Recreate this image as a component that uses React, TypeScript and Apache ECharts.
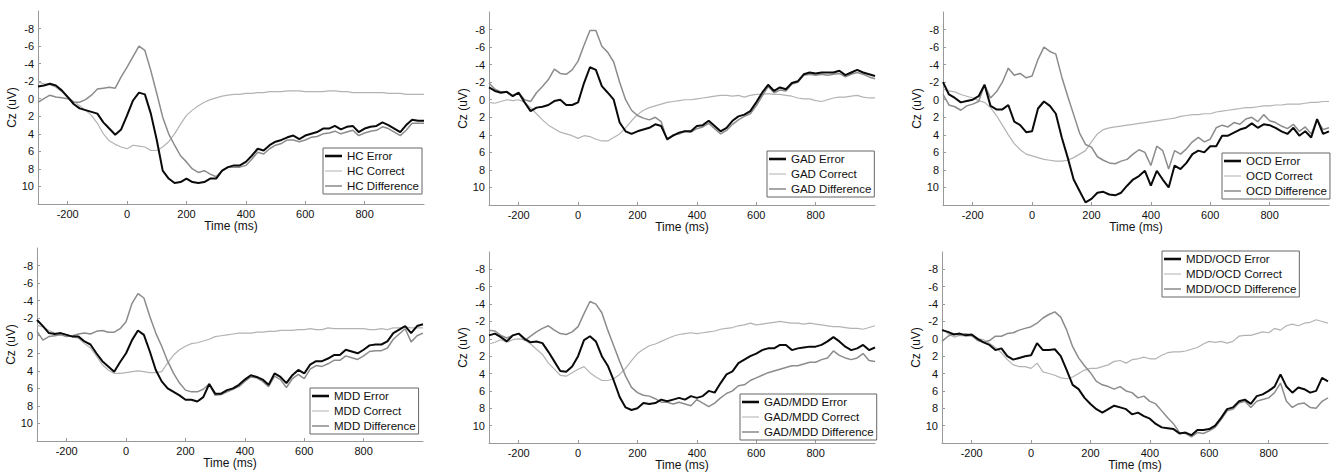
import React, { useEffect, useRef } from "react";
import * as echarts from "echarts";

// Time points (ms)
const TIME = [
  -300, -280, -260, -240, -220, -200, -180, -160, -140, -120, -100,
  -80, -60, -40, -20, 0, 20, 40, 60, 80, 100, 120,
  140, 160, 180, 200, 220, 240, 260, 280, 300, 320, 340,
  360, 380, 400, 420, 440, 460, 480, 500, 520, 540, 560,
  580, 600, 620, 640, 660, 680, 700, 720, 740, 760, 780,
  800, 820, 840, 860, 880, 900, 920, 940, 960, 980, 1000,
];

// HC
const HC_ERR = [
  -1.4, -1.5, -1.7, -1.5, -0.95, -0.2, 0.6, 1.1, 1.3, 1.5, 1.7,
  2.7, 3.4, 4.1, 3.5, 1.9, 0.2, -0.7, -0.5, 1.7, 4.7, 8.2,
  9.1, 9.6, 9.5, 9.1, 9.5, 9.6, 9.5, 9.1, 9.1, 8.2, 7.8,
  7.6, 7.6, 7.2, 6.5, 5.7, 5.9, 5.3, 4.9, 4.7, 4.4, 4.2,
  4.6, 4.2, 4.0, 3.8, 3.4, 3.4, 3.1, 3.5, 3.2, 3.1, 3.8,
  3.4, 3.2, 3.1, 2.7, 3.0, 3.4, 3.8, 3.0, 2.4, 2.5, 2.5,
];
const HC_COR = [
  -1.9, -1.7, -1.6, -1.3, -0.8, -0.2, 0.3, 0.8, 1.3, 1.9, 2.8,
  4.0, 4.8, 5.2, 5.5, 5.7, 5.3, 5.4, 5.5, 5.9, 5.9, 5.5,
  4.9, 4.0, 2.9, 1.9, 1.3, 0.8, 0.4, 0.1, -0.1, -0.3, -0.4,
  -0.5, -0.5, -0.6, -0.6, -0.7, -0.7, -0.8, -0.8, -0.8, -0.9, -0.9,
  -0.9, -0.8, -0.8, -0.8, -0.8, -0.9, -0.9, -0.8, -0.8, -0.7, -0.7,
  -0.7, -0.7, -0.7, -0.7, -0.6, -0.6, -0.6, -0.5, -0.5, -0.5, -0.5,
];
const HC_DIF = [
  0.4, 0.0, -0.4, -0.2, -0.1, 0.0, 0.4, 0.4, 0.1, -0.4, -1.1,
  -1.2, -1.3, -1.2, -2.5, -3.6, -4.8, -6.0, -5.5, -3.2, -0.6, 2.1,
  4.0, 5.3, 6.5, 7.2, 8.0, 8.4, 8.2, 8.6, 8.9, 8.2, 7.8,
  7.8, 7.8, 7.6, 6.9, 6.1, 6.3, 5.7, 5.3, 5.1, 4.7, 4.7,
  4.9, 4.7, 4.4, 4.3, 4.0, 3.9, 3.7, 4.0, 3.8, 3.6, 4.2,
  3.9, 3.7, 3.6, 3.2, 3.4, 3.8, 4.2, 3.6, 2.8, 2.8, 2.8,
];

// GAD
const GAD_ERR = [
  -1.4, -1.0, -0.8, -0.9, -0.4, -0.8, 0.3, 1.3, 0.9, 0.8, 0.6,
  0.15, 0.0, 0.6, 0.6, 0.3, -1.9, -3.7, -3.4, -1.55, -0.8, 0.0,
  2.6, 3.6, 3.9, 3.6, 3.4, 3.2, 2.8, 3.0, 4.5, 4.1, 3.75,
  3.6, 3.6, 3.0, 2.9, 2.4, 3.0, 3.6, 3.2, 2.4, 1.9, 1.7,
  1.3, 0.3, -0.8, -1.7, -1.0, -1.4, -1.2, -1.9, -2.1, -2.9, -3.1,
  -3.0, -3.1, -3.1, -3.1, -3.3, -2.8, -3.1, -3.4, -3.1, -2.9, -2.7,
];
const GAD_COR = [
  0.3, 0.4, 0.2, 0.0, 0.1, 0.0, 0.3, 0.9, 1.6, 2.3, 2.9,
  3.3, 3.7, 3.9, 4.1, 4.4, 4.1, 4.2, 4.5, 4.7, 4.7, 4.3,
  3.9, 3.2, 2.4, 1.7, 1.2, 0.9, 0.7, 0.5, 0.3, 0.2, 0.1,
  0.0, 0.0, -0.1, -0.2, -0.3, -0.4, -0.5, -0.5, -0.4, -0.5, -0.3,
  -0.5, -0.6, -0.6, -0.7, -0.6, -0.6, -0.5, -0.4, -0.2, -0.1, -0.1,
  0.1, 0.2, 0.0, -0.2, -0.3, -0.3, -0.4, -0.5, -0.3, -0.2, -0.2,
];
const GAD_DIF = [
  -1.9, -1.2, -0.9, -0.9, -0.5, -0.8, 0.0, 0.2, -0.8, -1.5, -2.3,
  -3.5, -3.0, -2.9, -3.4, -4.4, -6.2, -7.9, -7.9, -6.1, -5.4, -4.3,
  -2.0, 0.0, 1.2, 1.8, 2.1, 2.3, 2.0, 2.5, 4.6, 4.0, 3.9,
  3.6, 3.7, 3.3, 3.1, 2.7, 3.3, 3.9, 3.5, 2.8, 2.3, 1.9,
  1.6, 0.7, -0.4, -1.5, -0.8, -1.1, -1.0, -1.8, -2.0, -2.8, -2.9,
  -2.8, -2.9, -2.8, -2.9, -3.0, -2.6, -2.9, -3.1, -2.9, -2.6, -2.4,
];

// OCD
const OCD_ERR = [
  -2.0, -0.6, -0.2, 0.3, 0.15, 0.0, -0.4, -1.7, 0.7, 1.1, 1.1,
  0.6, 2.5, 2.9, 3.7, 3.6, 1.0, 0.2, 0.7, 1.6, 4.3, 6.6,
  9.1, 10.4, 11.7, 11.3, 10.6, 10.5, 10.8, 10.9, 10.6, 9.8, 9.1,
  8.7, 8.1, 9.8, 8.1, 9.1, 10.0, 7.5, 7.9, 7.2, 6.2, 5.8,
  6.0, 5.3, 5.3, 4.1, 4.1, 3.75, 3.4, 3.2, 2.7, 3.2, 2.8,
  2.9, 3.2, 3.6, 3.9, 3.2, 4.1, 3.6, 4.3, 2.2, 3.9, 3.6,
];
const OCD_COR = [
  -1.2, -1.0, -0.9, -0.6, -0.4, -0.2, 0.1, 0.3, 0.9, 1.8, 2.9,
  4.0, 5.0, 5.7, 6.2, 6.4, 6.6, 6.8, 6.9, 7.0, 7.0, 6.9,
  6.6, 6.2, 5.8, 4.8, 3.9, 3.4, 3.2, 3.1, 3.0, 2.9, 2.8,
  2.7, 2.6, 2.5, 2.4, 2.3, 2.2, 2.1, 1.9, 1.8, 1.7, 1.7,
  1.6, 1.6, 1.4, 1.3, 1.2, 1.1, 1.0, 0.9, 0.9, 0.8, 0.7,
  0.7, 0.6, 0.6, 0.5, 0.5, 0.5, 0.4, 0.3, 0.3, 0.2, 0.2,
];
const OCD_DIF = [
  -0.6, 0.6, 0.8, 1.2, 0.7, 0.5, 0.2, -1.7, -0.2, -0.9, -2.0,
  -3.6, -2.8, -3.0, -2.5, -2.7, -4.6, -6.0, -5.5, -5.2, -2.6, -0.4,
  1.7, 3.8, 5.1, 5.4, 6.5, 6.9, 7.2, 7.3, 7.0, 6.8, 6.2,
  5.7, 6.0, 7.5, 5.3, 5.8, 7.9, 5.8, 6.2, 5.6, 4.8, 4.3,
  4.8, 4.5, 3.2, 2.9, 3.1, 2.6, 2.8, 2.2, 2.0, 2.5, 1.7,
  2.4, 2.6, 3.0, 3.3, 2.8, 3.6, 3.1, 3.9, 2.3, 3.4, 3.2,
];

// MDD
const MDD_ERR = [
  -1.8, -1.1, -0.3, -0.2, -0.3, -0.1, 0.1, 0.1, 0.65, 1.0, 2.0,
  2.9, 3.5, 4.1, 3.0, 2.0, 0.5, -0.6, -0.1, 1.8, 3.9, 5.2,
  6.0, 6.4, 6.8, 7.3, 7.3, 7.5, 7.0, 5.5, 6.6, 6.6, 6.2,
  6.0, 5.6, 5.0, 4.5, 4.7, 5.0, 5.6, 4.3, 4.7, 5.4, 4.5,
  3.9, 4.3, 3.3, 2.9, 2.9, 2.6, 2.2, 2.2, 1.6, 1.8, 2.0,
  1.6, 1.1, 1.0, 1.0, 0.65, -0.3, -0.7, -1.1, -0.3, -1.1, -1.3,
];
const MDD_COR = [
  -1.2, -1.0, -0.6, -0.3, -0.2, -0.1, 0.1, 0.3, 0.9, 1.4, 2.3,
  3.3, 3.9, 4.3, 4.3, 4.2, 4.1, 4.0, 4.1, 4.2, 4.2, 4.1,
  3.1, 2.2, 1.6, 1.2, 0.9, 0.8, 0.6, 0.4, 0.1, 0.0, -0.1,
  -0.2, -0.3, -0.3, -0.3, -0.4, -0.4, -0.5, -0.5, -0.6, -0.6, -0.6,
  -0.7, -0.7, -0.8, -0.7, -0.7, -0.9, -0.8, -0.8, -0.8, -0.8, -0.8,
  -0.8, -0.7, -0.7, -0.8, -0.7, -0.9, -0.9, -1.0, -0.9, -0.9, -0.9,
];
const MDD_DIF = [
  -0.5, 0.5, 0.1, 0.0, -0.1, 0.1, 0.0, -0.2, -0.3, -0.2, -0.5,
  -0.6, -0.4, -0.4, -0.8, -1.6, -3.7, -4.8, -4.3, -2.2, -0.3, 1.2,
  2.9, 4.3, 5.4, 6.2, 6.4, 6.4, 6.1, 5.5, 6.8, 6.7, 6.4,
  6.1, 5.8, 5.2, 4.7, 4.8, 5.2, 5.8, 4.6, 5.0, 5.9, 4.9,
  4.4, 4.9, 3.8, 3.4, 3.5, 3.2, 2.8, 2.8, 2.3, 2.5, 2.7,
  2.3, 1.8, 1.7, 1.7, 1.4, 0.4, -0.2, -0.8, 0.7, 0.0, -0.3,
];

// GAD/MDD
const GM_ERR = [
  -0.4, -0.6, -0.2, 0.3, -0.4, -0.6, 0.0, 0.4, 0.3, 0.5, 1.5,
  2.6, 3.7, 3.8, 3.2, 2.0, 0.15, -0.3, 0.3, 2.0, 3.1, 4.8,
  6.7, 7.9, 8.2, 8.0, 7.4, 7.5, 7.4, 7.0, 7.2, 7.0, 6.8,
  7.0, 6.6, 6.8, 6.6, 6.0, 6.2, 5.1, 4.1, 3.75, 2.8, 2.4,
  2.0, 1.7, 1.3, 1.1, 1.1, 0.7, 0.7, 1.3, 1.1, 1.0, 0.9,
  0.9, 0.7, 0.3, -0.2, 0.3, 0.9, 1.3, 1.1, 0.7, 1.3, 1.0,
];
const GM_COR = [
  0.6, 0.4, 0.1, 0.4, 0.1, 0.0, 0.1, 0.6, 1.2, 1.8, 2.8,
  3.5, 4.2, 4.3, 3.9, 3.5, 3.2, 3.9, 4.4, 4.8, 4.8, 4.6,
  4.1, 3.4, 2.5, 1.7, 1.2, 0.8, 0.6, 0.3, 0.0, -0.3, -0.5,
  -0.6, -0.7, -0.6, -0.7, -0.8, -0.9, -1.1, -1.2, -1.3, -1.5, -1.6,
  -1.8, -1.6, -1.7, -1.8, -1.9, -2.0, -1.9, -1.8, -1.8, -1.7, -1.8,
  -1.7, -1.6, -1.5, -1.4, -1.4, -1.3, -1.2, -1.2, -1.1, -1.3, -1.5,
];
const GM_DIF = [
  -1.0, -0.9, -0.4, -0.1, -0.4, -0.6, 0.2, -0.3, -0.8, -1.2, -1.5,
  -1.0, -0.6, -0.5, -0.8, -1.4, -2.9, -4.3, -4.0, -3.0, -1.0, 0.8,
  2.6, 4.3, 5.6, 6.2, 6.5, 6.6, 6.9, 7.3, 7.3, 7.5, 7.3,
  7.5, 7.7, 7.0, 7.4, 7.8, 7.4, 6.8, 6.3, 6.0, 5.4, 5.3,
  4.8, 4.5, 4.2, 3.9, 3.7, 3.5, 3.3, 3.1, 3.1, 2.9, 2.7,
  2.7, 2.4, 2.2, 1.4, 1.9, 2.2, 2.4, 2.2, 1.7, 2.5, 2.6,
];

// MDD/OCD
const MO_ERR = [
  -1.0, -0.8, -0.5, -0.6, -0.4, -0.5, 0.0, 0.4, 0.7, 1.3, 1.1,
  2.0, 2.4, 2.2, 2.0, 1.9, 0.5, 1.3, 1.3, 1.2, 2.0, 3.6,
  5.3, 5.8, 6.8, 7.5, 8.1, 8.5, 8.1, 7.7, 7.9, 8.1, 8.7,
  8.5, 8.9, 9.2, 9.8, 10.2, 10.3, 10.4, 10.9, 10.8, 11.1, 10.5,
  10.5, 10.4, 10.0, 9.1, 8.1, 7.9, 7.2, 7.0, 7.5, 6.6, 6.4,
  6.0, 5.5, 4.1, 5.5, 6.2, 5.6, 5.8, 6.2, 6.0, 4.5, 4.9,
];
const MO_COR = [
  -1.2, -0.6, -0.2, -0.4, -0.3, -0.3, 0.0, 0.1, 0.5, 1.0, 1.6,
  2.4, 3.0, 3.2, 3.2, 3.4, 2.8, 3.8, 4.0, 4.2, 4.5, 4.6,
  4.4, 4.0, 3.6, 3.4, 3.4, 3.2, 3.0, 2.6, 2.5, 2.8, 2.4,
  2.3, 2.1, 2.3, 2.3, 1.9, 1.6, 1.5, 1.5, 1.4, 1.2, 1.0,
  0.6, 0.3, 0.4, 0.3, 0.5, 0.3, -0.3, -0.4, -0.4, -0.6, -0.8,
  -0.7, -1.2, -1.0, -1.5, -1.7, -1.5, -1.8, -1.9, -2.2, -2.0, -1.8,
];
const MO_DIF = [
  0.3, -0.3, -0.6, -0.4, -0.6, -0.4, 0.2, 0.4, 0.2, -0.3, -0.3,
  -0.6, -0.7, -1.0, -1.2, -1.4, -1.8, -2.4, -2.8, -3.1, -2.5, -1.0,
  0.9, 2.2, 3.1, 3.9, 4.9, 5.3, 5.5, 5.8, 5.5, 6.0, 6.2,
  6.8, 6.6, 7.2, 7.5, 8.3, 9.1, 9.8, 10.8, 10.9, 11.3, 10.8,
  10.9, 10.6, 10.2, 9.3, 8.3, 8.1, 7.4, 7.2, 7.9, 7.2, 7.0,
  6.8, 6.2, 5.1, 7.2, 7.9, 7.5, 7.4, 7.9, 8.0, 7.2, 6.8,
];

const GROUPS = ["HC", "GAD", "OCD", "MDD", "GAD/MDD", "MDD/OCD"];
const ERRORS = [HC_ERR, GAD_ERR, OCD_ERR, MDD_ERR, GM_ERR, MO_ERR];
const CORRECTS = [HC_COR, GAD_COR, OCD_COR, MDD_COR, GM_COR, MO_COR];
const DIFFS = [HC_DIF, GAD_DIF, OCD_DIF, MDD_DIF, GM_DIF, MO_DIF];

// Layout (pixels)
const GRID_POS = [
  { left: 38, top: 11 },
  { left: 489, top: 12 },
  { left: 943, top: 12 },
  { left: 37, top: 248 },
  { left: 489, top: 252 },
  { left: 942, top: 252 },
];
const LEGEND_POS = [
  { left: 323, top: 148 },
  { left: 767, top: 151 },
  { left: 1222, top: 153 },
  { left: 310, top: 388 },
  { left: 740, top: 394 },
  { left: 1162, top: 251 },
];

const FONT = "'Liberation Sans', Arial, Helvetica, sans-serif";
const COLOR_ERR = "#0a0a0a";
const COLOR_COR = "#b3b3b3";
const COLOR_DIF = "#8c8c8c";

// Legend line icons (thin horizontal bars of different thickness)
const ICON_ERR = "path://M0,0H40V6H0Z";
const ICON_COR = "path://M0,0H40V2.4H0Z";
const ICON_DIF = "path://M0,0H40V3.6H0Z";

export default function App() {
  const ref = useRef<HTMLDivElement>(null);

  useEffect(() => {
    if (!ref.current) return;
    const chart = echarts.init(ref.current, undefined, { renderer: "svg" });
    const pairs = (vals: number[]) => TIME.map((t, i) => [t, vals[i]]);

    const grid = GRID_POS.map((g) => ({
      left: g.left,
      top: g.top,
      width: 386,
      height: 193,
      containLabel: false,
    }));

    const xAxis = GROUPS.map((_, i) => ({
      type: "value",
      gridIndex: i,
      min: -300,
      max: 1000,
      splitNumber: 6,
      name: "Time (ms)",
      nameLocation: "middle",
      nameGap: 16,
      nameTextStyle: { fontFamily: FONT, fontSize: 12, color: "#111" },
      axisLine: { show: true, onZero: false, lineStyle: { color: "#999", width: 1 } },
      axisTick: { show: true, inside: true, length: 3, lineStyle: { color: "#999" } },
      axisLabel: {
        fontFamily: FONT,
        fontSize: 11,
        color: "#111",
        margin: 4,
        showMinLabel: false,
        showMaxLabel: false,
      },
      splitLine: { show: false },
    }));

    const yAxis = GROUPS.map((_, i) => ({
      type: "value",
      gridIndex: i,
      inverse: true,
      min: -10,
      max: 12,
      interval: 2,
      name: "Cz (uV)",
      nameLocation: "middle",
      nameGap: 17,
      nameTextStyle: { fontFamily: FONT, fontSize: 12, color: "#111" },
      axisLine: { show: true, onZero: false, lineStyle: { color: "#999", width: 1 } },
      axisTick: { show: true, inside: true, length: 3, lineStyle: { color: "#999" } },
      axisLabel: {
        fontFamily: FONT,
        fontSize: 11,
        color: "#111",
        margin: 4,
        showMinLabel: false,
        showMaxLabel: false,
      },
      splitLine: { show: false },
    }));

    const series: any[] = [];
    GROUPS.forEach((g, i) => {
      series.push({
        name: `${g} Correct`,
        type: "line",
        xAxisIndex: i,
        yAxisIndex: i,
        symbol: "none",
        showSymbol: false,
        z: 2,
        lineStyle: { color: COLOR_COR, width: 1.2 },
        itemStyle: { color: COLOR_COR },
        data: pairs(CORRECTS[i]),
      });
      series.push({
        name: `${g} Difference`,
        type: "line",
        xAxisIndex: i,
        yAxisIndex: i,
        symbol: "none",
        showSymbol: false,
        z: 3,
        lineStyle: { color: COLOR_DIF, width: 1.5 },
        itemStyle: { color: COLOR_DIF },
        data: pairs(DIFFS[i]),
      });
      series.push({
        name: `${g} Error`,
        type: "line",
        xAxisIndex: i,
        yAxisIndex: i,
        symbol: "none",
        showSymbol: false,
        z: 4,
        lineStyle: { color: COLOR_ERR, width: 2 },
        itemStyle: { color: COLOR_ERR },
        data: pairs(ERRORS[i]),
      });
    });

    const legend = GROUPS.map((g, i) => ({
      show: true,
      orient: "vertical",
      left: LEGEND_POS[i].left,
      top: LEGEND_POS[i].top,
      data: [
        { name: `${g} Error`, icon: ICON_ERR, itemStyle: { color: COLOR_ERR } },
        { name: `${g} Correct`, icon: ICON_COR, itemStyle: { color: COLOR_COR } },
        { name: `${g} Difference`, icon: ICON_DIF, itemStyle: { color: COLOR_DIF } },
      ],
      itemWidth: 17,
      itemHeight: 11,
      itemGap: 3,
      symbolKeepAspect: true,
      padding: [2, 3, 2, 2],
      borderColor: "#666",
      borderWidth: 1,
      borderRadius: 0,
      backgroundColor: "#fff",
      selectedMode: false,
      textStyle: { fontFamily: FONT, fontSize: 11.5, color: "#111" },
    }));

    chart.setOption({
      animation: false,
      backgroundColor: "#fff",
      grid,
      xAxis,
      yAxis,
      series,
      legend,
    });

    return () => chart.dispose();
  }, []);

  return (
    <div
      ref={ref}
      style={{ position: "fixed", left: 0, top: 0, width: 1336, height: 472, background: "#fff" }}
    />
  );
}
